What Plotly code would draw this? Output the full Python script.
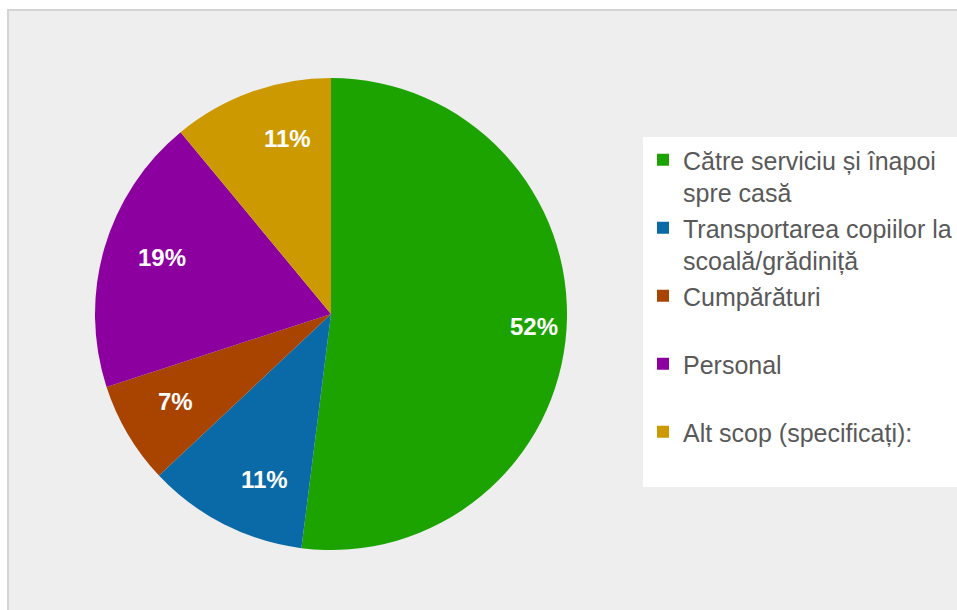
import numpy as np
import plotly.graph_objects as go

# Trip purposes and their shares (percent)
labels = [
    "Către serviciu și înapoi<br>spre casă",
    "Transportarea copiilor la<br>scoală/grădiniță",
    "Cumpărături<br> ",
    "Personal<br> ",
    "Alt scop (specificați):<br> ",
]
values = [52, 11, 7, 19, 11]
colors = ["#1ca300", "#0a6aa8", "#a84300", "#8c00a0", "#cc9a00"]

W, H = 957, 610
cx, cy, R = 331, 314, 236  # pie centre and radius in pixels

dom_x = [(cx - R) / W, (cx + R) / W]
dom_y = [1 - (cy + R) / H, 1 - (cy - R) / H]

fig = go.Figure()
fig.add_trace(go.Pie(
    labels=labels,
    values=values,
    sort=False,
    direction="clockwise",
    rotation=0,
    marker=dict(colors=colors, line=dict(width=0)),
    textinfo="none",
    hoverinfo="label+percent",
    domain=dict(x=dom_x, y=dom_y),
))

# Percentage labels placed along each slice's bisector
vals = np.array(values, dtype=float)
frac = vals / vals.sum()
mid = (np.cumsum(frac) - frac / 2) * 2 * np.pi
annotations = []
for f, a in zip(frac, mid):
    px = cx + 0.86 * R * np.sin(a)
    py = cy - 0.86 * R * np.cos(a)
    annotations.append(dict(
        x=px / W, y=1 - py / H, xref="paper", yref="paper",
        text=f"<b>{round(f * 100):.0f}%</b>", showarrow=False,
        font=dict(family="Liberation Sans, Arial", size=24, color="white"),
    ))

fig.update_layout(
    width=W, height=H,
    margin=dict(l=0, r=0, t=0, b=0, autoexpand=False),
    paper_bgcolor="white",
    showlegend=True,
    legend=dict(
        x=643 / W, y=1 - 137 / H, xanchor="left", yanchor="top",
        bgcolor="white",
        font=dict(family="Liberation Sans, Arial", size=25, color="#595959"),
        itemwidth=30,
        valign="top",
    ),
    shapes=[dict(
        type="rect", xref="paper", yref="paper",
        x0=8 / W, x1=1.01, y0=-0.01, y1=1 - 10 / H,
        fillcolor="#eeeeee", line=dict(color="#d4d4d4", width=2),
        layer="below",
    )],
    annotations=annotations,
)

fig.write_html("out.html")
